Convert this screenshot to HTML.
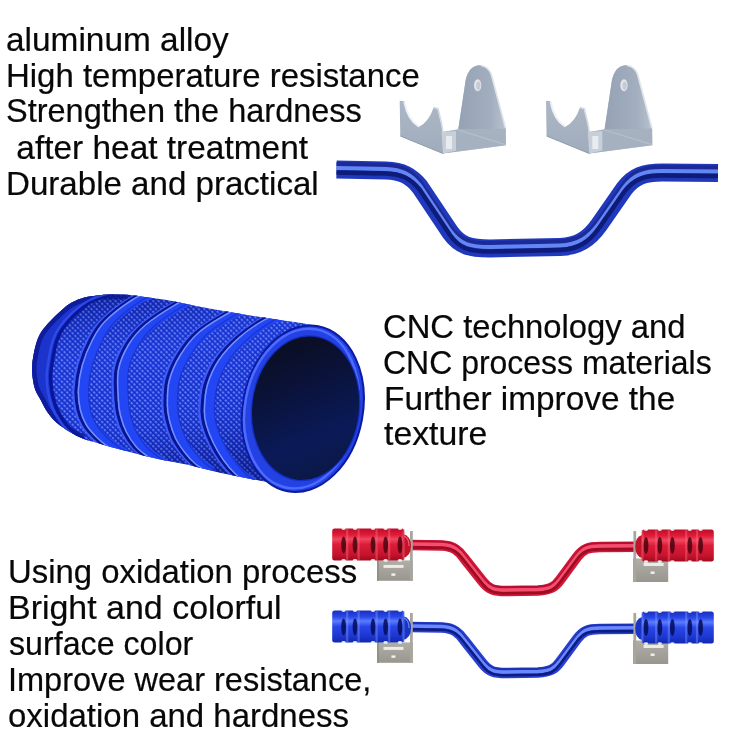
<!DOCTYPE html>
<html><head><meta charset="utf-8"><style>
html,body{margin:0;padding:0;background:#fff;}
body{width:750px;height:750px;position:relative;overflow:hidden;}
.t{position:absolute;font-family:"Liberation Sans",sans-serif;font-size:32.5px;line-height:32.5px;white-space:pre;color:#080808;-webkit-text-stroke:0.2px #080808;transform-origin:0 0;}
svg{position:absolute;left:0;top:0;}
</style></head><body>
<svg width="750" height="750" viewBox="0 0 750 750">
<defs>
  <linearGradient id="brkTab" x1="0" y1="0" x2="1" y2="0">
    <stop offset="0" stop-color="#95a2b4"/><stop offset="0.7" stop-color="#a3afbf"/><stop offset="1" stop-color="#b8c2cf"/>
  </linearGradient>
  <linearGradient id="brkU" x1="0" y1="0" x2="0" y2="1">
    <stop offset="0" stop-color="#b5bfcc"/><stop offset="1" stop-color="#a0acbc"/>
  </linearGradient>
  <pattern id="knurl" width="3.8" height="3.8" patternUnits="userSpaceOnUse" patternTransform="rotate(45)">
    <rect width="3.8" height="3.8" fill="#1834d8"/>
    <rect x="0.8" y="1.1" width="2.4" height="1.6" fill="#6a8cff"/>
    <path d="M0,0 H3.8 M0,0 V3.8" stroke="#0c1aa8" stroke-width="0.8"/>
  </pattern>
  <linearGradient id="gripShade" x1="0" y1="0" x2="0.25" y2="1">
    <stop offset="0" stop-color="#000040" stop-opacity="0.45"/><stop offset="0.12" stop-color="#000040" stop-opacity="0.2"/><stop offset="0.35" stop-color="#5070ff" stop-opacity="0.12"/><stop offset="0.65" stop-color="#5070ff" stop-opacity="0.08"/><stop offset="0.9" stop-color="#000040" stop-opacity="0.2"/><stop offset="1" stop-color="#000040" stop-opacity="0.35"/>
  </linearGradient>
  <linearGradient id="face" x1="0.2" y1="0" x2="0.6" y2="1">
    <stop offset="0" stop-color="#0a0e1e"/><stop offset="0.35" stop-color="#0a1238"/><stop offset="0.75" stop-color="#0a1a58"/><stop offset="1" stop-color="#0b1846"/>
  </linearGradient>
  <linearGradient id="redGrip" x1="0" y1="0" x2="0" y2="1">
    <stop offset="0" stop-color="#c00c28"/><stop offset="0.2" stop-color="#e01c38"/><stop offset="0.33" stop-color="#f04860"/><stop offset="0.5" stop-color="#dc1c38"/><stop offset="0.8" stop-color="#c8142e"/><stop offset="1" stop-color="#a00a20"/>
  </linearGradient>
  <linearGradient id="blueGrip" x1="0" y1="0" x2="0" y2="1">
    <stop offset="0" stop-color="#1830c0"/><stop offset="0.2" stop-color="#2a48e8"/><stop offset="0.33" stop-color="#5a7cff"/><stop offset="0.5" stop-color="#2a46e8"/><stop offset="0.8" stop-color="#1c36d0"/><stop offset="1" stop-color="#1028b0"/>
  </linearGradient>
  <linearGradient id="smallBrk" x1="0" y1="0" x2="0" y2="1">
    <stop offset="0" stop-color="#b0aea8"/><stop offset="1" stop-color="#98968e"/>
  </linearGradient>


</defs>
<filter id="soft" x="-5%" y="-20%" width="110%" height="140%"><feGaussianBlur stdDeviation="0.7"/></filter><filter id="soft2" x="-5%" y="-20%" width="110%" height="140%"><feGaussianBlur stdDeviation="0.45"/></filter>
<g fill="none" stroke-linecap="butt">
  <path d="M336.5,169.5 L386,170.5 C402,171 411,176 420,187 L450,232 C460,246 470,248.5 490,248.5 L560,247 C578,246.5 589,239 599,225 L624,189 C634,176 644,172.6 662,172.6 L718,173" stroke="#2038bc" stroke-width="18"/>
  <g filter="url(#soft)">
  <path transform="translate(0,-5.5)" d="M336.5,169.5 L386,170.5 C402,171 411,176 420,187 L450,232 C460,246 470,248.5 490,248.5 L560,247 C578,246.5 589,239 599,225 L624,189 C634,176 644,172.6 662,172.6 L718,173" stroke="#1c2c98" stroke-width="4"/>
  <path transform="translate(0,-1.5)" d="M336.5,169.5 L386,170.5 C402,171 411,176 420,187 L450,232 C460,246 470,248.5 490,248.5 L560,247 C578,246.5 589,239 599,225 L624,189 C634,176 644,172.6 662,172.6 L718,173" stroke="#6486f2" stroke-width="4"/>
  <path transform="translate(0,3)" d="M336.5,169.5 L386,170.5 C402,171 411,176 420,187 L450,232 C460,246 470,248.5 490,248.5 L560,247 C578,246.5 589,239 599,225 L624,189 C634,176 644,172.6 662,172.6 L718,173" stroke="#0c1a78" stroke-width="4.5"/>
  </g>
</g>
<g>
    <path d="M399.7,100.7 L404.3,101.3 Q408,120 419,126.7 Q429,122 433.7,107.3 L437.7,108.7 L441,122.7 L443,132 L458.3,129.3 L465.7,80 Q469,66 479,65.3 Q488,66 491,74.7 L505.7,128.7 L506,145.3 L443,153.5 L400.3,136 Z" fill="url(#brkU)"/>
    <path d="M458.3,129.3 L465.7,80 Q469,66 479,65.3 Q488,66 491,74.7 L505.7,128.7 Z" fill="url(#brkTab)"/>
    <path d="M481,65.5 Q489,67 491.5,75 L505.5,128" fill="none" stroke="#dfe4ea" stroke-width="1.6"/>
    <path d="M404.3,102 Q408,120 419,126.7" fill="none" stroke="#eef1f4" stroke-width="2"/>
    <path d="M433.7,107.5 L438,108.7 L441.5,123 L443,132" fill="none" stroke="#d6dce4" stroke-width="1.5"/>
    <ellipse cx="477.7" cy="85.3" rx="3.6" ry="6" fill="#e4e8ee"/>
    <ellipse cx="478.3" cy="85.8" rx="2.2" ry="4.2" fill="#c4ccd6"/>
    <path d="M458.3,130 L505.7,144.7" stroke="#c9d1db" stroke-width="1.3"/>
    <path d="M443,132 L458.3,129.5 L506,128.7 L506,145.3 L443,153.5 Z" fill="#a8b3c2" opacity="0.6"/>
    <path d="M441.5,132 L456,131 L456,150.5 L443,153.5 Z" fill="#c7cfd9"/>
    <rect x="446" y="136" width="6" height="13" fill="#e8ecf0"/>
    <path d="M400.3,136 L443,153.5" stroke="#8e9aab" stroke-width="1"/>
  </g>
<g transform="translate(146.3,0)">
    <path d="M399.7,100.7 L404.3,101.3 Q408,120 419,126.7 Q429,122 433.7,107.3 L437.7,108.7 L441,122.7 L443,132 L458.3,129.3 L465.7,80 Q469,66 479,65.3 Q488,66 491,74.7 L505.7,128.7 L506,145.3 L443,153.5 L400.3,136 Z" fill="url(#brkU)"/>
    <path d="M458.3,129.3 L465.7,80 Q469,66 479,65.3 Q488,66 491,74.7 L505.7,128.7 Z" fill="url(#brkTab)"/>
    <path d="M481,65.5 Q489,67 491.5,75 L505.5,128" fill="none" stroke="#dfe4ea" stroke-width="1.6"/>
    <path d="M404.3,102 Q408,120 419,126.7" fill="none" stroke="#eef1f4" stroke-width="2"/>
    <path d="M433.7,107.5 L438,108.7 L441.5,123 L443,132" fill="none" stroke="#d6dce4" stroke-width="1.5"/>
    <ellipse cx="477.7" cy="85.3" rx="3.6" ry="6" fill="#e4e8ee"/>
    <ellipse cx="478.3" cy="85.8" rx="2.2" ry="4.2" fill="#c4ccd6"/>
    <path d="M458.3,130 L505.7,144.7" stroke="#c9d1db" stroke-width="1.3"/>
    <path d="M443,132 L458.3,129.5 L506,128.7 L506,145.3 L443,153.5 Z" fill="#a8b3c2" opacity="0.6"/>
    <path d="M441.5,132 L456,131 L456,150.5 L443,153.5 Z" fill="#c7cfd9"/>
    <rect x="446" y="136" width="6" height="13" fill="#e8ecf0"/>
    <path d="M400.3,136 L443,153.5" stroke="#8e9aab" stroke-width="1"/>
  </g>
<clipPath id="gclip"><path d="M32.3,362.7 C32.8,360.2 33.8,352.6 35.0,348.0 C36.2,343.4 37.4,339.0 39.5,335.0 C41.6,331.0 44.4,327.6 47.5,324.0 C50.6,320.4 54.4,316.7 58.0,313.4 C61.6,310.1 65.4,306.5 69.3,304.0 C73.2,301.5 76.7,299.8 81.4,298.4 C86.1,297.0 92.5,296.2 97.3,295.6 C102.1,295.0 104.9,294.6 110.0,294.5 C115.1,294.4 121.9,294.2 128.0,294.7 C134.1,295.2 139.1,296.2 146.7,297.3 C154.2,298.4 164.4,299.7 173.3,301.3 C182.2,302.9 191.1,305.0 200.0,306.7 C208.9,308.4 217.8,309.9 226.7,311.5 C235.6,313.1 244.4,314.6 253.3,316.0 C262.2,317.4 271.1,318.7 280.0,320.0 C288.9,321.3 300.4,322.9 306.7,324.0 C313.0,325.1 316.1,326.1 318.0,326.5  L300.0,489.5 C297.3,488.9 292.0,487.3 284.0,485.6 C276.0,483.9 262.7,481.3 252.0,479.2 C241.3,477.1 230.7,475.2 220.0,472.8 C209.3,470.4 198.7,467.2 188.0,464.8 C177.3,462.4 166.7,460.8 156.0,458.4 C145.3,456.0 131.7,452.3 124.0,450.4 C116.3,448.4 114.5,448.0 110.0,446.7 C105.5,445.4 101.2,444.0 96.7,442.7 C92.2,441.4 87.8,440.5 83.3,438.7 C78.8,436.9 74.4,434.7 70.0,432.0 C65.6,429.3 60.5,426.0 56.7,422.7 C52.9,419.4 50.0,415.8 47.3,412.0 C44.6,408.2 42.8,403.8 40.7,400.0 C38.7,396.2 36.4,393.2 35.0,389.0 C33.6,384.8 32.8,379.4 32.3,375.0 C31.8,370.6 32.3,364.8 32.3,362.7  Z"/></clipPath>
<g>
<path d="M32.3,362.7 C32.8,360.2 33.8,352.6 35.0,348.0 C36.2,343.4 37.4,339.0 39.5,335.0 C41.6,331.0 44.4,327.6 47.5,324.0 C50.6,320.4 54.4,316.7 58.0,313.4 C61.6,310.1 65.4,306.5 69.3,304.0 C73.2,301.5 76.7,299.8 81.4,298.4 C86.1,297.0 92.5,296.2 97.3,295.6 C102.1,295.0 104.9,294.6 110.0,294.5 C115.1,294.4 121.9,294.2 128.0,294.7 C134.1,295.2 139.1,296.2 146.7,297.3 C154.2,298.4 164.4,299.7 173.3,301.3 C182.2,302.9 191.1,305.0 200.0,306.7 C208.9,308.4 217.8,309.9 226.7,311.5 C235.6,313.1 244.4,314.6 253.3,316.0 C262.2,317.4 271.1,318.7 280.0,320.0 C288.9,321.3 300.4,322.9 306.7,324.0 C313.0,325.1 316.1,326.1 318.0,326.5  L300.0,489.5 C297.3,488.9 292.0,487.3 284.0,485.6 C276.0,483.9 262.7,481.3 252.0,479.2 C241.3,477.1 230.7,475.2 220.0,472.8 C209.3,470.4 198.7,467.2 188.0,464.8 C177.3,462.4 166.7,460.8 156.0,458.4 C145.3,456.0 131.7,452.3 124.0,450.4 C116.3,448.4 114.5,448.0 110.0,446.7 C105.5,445.4 101.2,444.0 96.7,442.7 C92.2,441.4 87.8,440.5 83.3,438.7 C78.8,436.9 74.4,434.7 70.0,432.0 C65.6,429.3 60.5,426.0 56.7,422.7 C52.9,419.4 50.0,415.8 47.3,412.0 C44.6,408.2 42.8,403.8 40.7,400.0 C38.7,396.2 36.4,393.2 35.0,389.0 C33.6,384.8 32.8,379.4 32.3,375.0 C31.8,370.6 32.3,364.8 32.3,362.7  Z" fill="url(#knurl)"/>
<path d="M32.3,362.7 C32.8,360.2 33.8,352.6 35.0,348.0 C36.2,343.4 37.4,339.0 39.5,335.0 C41.6,331.0 44.4,327.6 47.5,324.0 C50.6,320.4 54.4,316.7 58.0,313.4 C61.6,310.1 65.4,306.5 69.3,304.0 C73.2,301.5 76.7,299.8 81.4,298.4 C86.1,297.0 92.5,296.2 97.3,295.6 C102.1,295.0 104.9,294.6 110.0,294.5 C115.1,294.4 121.9,294.2 128.0,294.7 C134.1,295.2 139.1,296.2 146.7,297.3 C154.2,298.4 164.4,299.7 173.3,301.3 C182.2,302.9 191.1,305.0 200.0,306.7 C208.9,308.4 217.8,309.9 226.7,311.5 C235.6,313.1 244.4,314.6 253.3,316.0 C262.2,317.4 271.1,318.7 280.0,320.0 C288.9,321.3 300.4,322.9 306.7,324.0 C313.0,325.1 316.1,326.1 318.0,326.5  L300.0,489.5 C297.3,488.9 292.0,487.3 284.0,485.6 C276.0,483.9 262.7,481.3 252.0,479.2 C241.3,477.1 230.7,475.2 220.0,472.8 C209.3,470.4 198.7,467.2 188.0,464.8 C177.3,462.4 166.7,460.8 156.0,458.4 C145.3,456.0 131.7,452.3 124.0,450.4 C116.3,448.4 114.5,448.0 110.0,446.7 C105.5,445.4 101.2,444.0 96.7,442.7 C92.2,441.4 87.8,440.5 83.3,438.7 C78.8,436.9 74.4,434.7 70.0,432.0 C65.6,429.3 60.5,426.0 56.7,422.7 C52.9,419.4 50.0,415.8 47.3,412.0 C44.6,408.2 42.8,403.8 40.7,400.0 C38.7,396.2 36.4,393.2 35.0,389.0 C33.6,384.8 32.8,379.4 32.3,375.0 C31.8,370.6 32.3,364.8 32.3,362.7  Z" fill="url(#gripShade)"/>
<g clip-path="url(#gclip)" fill="none">
<path d="M132.0,291.0 C128.3,291.5 116.7,292.3 110.0,294.0 C103.3,295.7 97.8,297.7 92.0,301.0 C86.2,304.3 79.8,309.5 75.0,314.0 C70.2,318.5 66.0,323.7 63.0,328.0 C60.0,332.3 58.6,335.5 57.0,340.0 C55.4,344.5 54.5,349.2 53.5,355.0 C52.5,360.8 51.0,368.5 50.7,374.7 C50.5,380.9 51.1,386.6 52.0,392.0 C52.9,397.4 54.2,402.3 56.0,407.0 C57.8,411.7 60.3,416.0 63.0,420.0 C65.7,424.0 68.6,427.8 72.0,431.0 C75.4,434.2 79.3,437.0 83.3,439.5 C87.3,442.0 91.5,443.9 96.0,446.0 C100.5,448.1 107.7,451.0 110.0,452.0  L20,470 L20,280 Z" fill="#1c34cc"/>
<path d="M83.3,438.7 C81.1,437.6 74.4,434.7 70.0,432.0 C65.6,429.3 60.5,426.0 56.7,422.7 C52.9,419.4 50.0,415.8 47.3,412.0 C44.6,408.2 42.8,403.8 40.7,400.0 C38.7,396.2 36.4,393.2 35.0,389.0 C33.6,384.8 32.8,379.4 32.3,375.0 C31.8,370.6 31.8,367.2 32.3,362.7 C32.8,358.2 33.8,352.6 35.0,348.0 C36.2,343.4 37.4,339.0 39.5,335.0 C41.6,331.0 44.4,327.6 47.5,324.0 C50.6,320.4 54.4,316.7 58.0,313.4 C61.6,310.1 65.4,306.5 69.3,304.0 C73.2,301.5 76.7,299.8 81.4,298.4 C86.1,297.0 92.5,296.2 97.3,295.6 C102.1,295.0 104.9,294.6 110.0,294.5 C115.1,294.4 125.0,294.7 128.0,294.7 " stroke="#0c1890" stroke-width="9" opacity="0.8"/>
<path d="M132.0,291.0 C128.3,291.5 116.7,292.3 110.0,294.0 C103.3,295.7 97.8,297.7 92.0,301.0 C86.2,304.3 79.8,309.5 75.0,314.0 C70.2,318.5 66.0,323.7 63.0,328.0 C60.0,332.3 58.6,335.5 57.0,340.0 C55.4,344.5 54.5,349.2 53.5,355.0 C52.5,360.8 51.0,368.5 50.7,374.7 C50.5,380.9 51.1,386.6 52.0,392.0 C52.9,397.4 54.2,402.3 56.0,407.0 C57.8,411.7 60.3,416.0 63.0,420.0 C65.7,424.0 68.6,427.8 72.0,431.0 C75.4,434.2 79.3,437.0 83.3,439.5 C87.3,442.0 91.5,443.9 96.0,446.0 C100.5,448.1 107.7,451.0 110.0,452.0 " stroke="#0a1698" stroke-width="3.5"/>
<path d="M132.0,291.0 C128.3,291.5 116.7,292.3 110.0,294.0 C103.3,295.7 97.8,297.7 92.0,301.0 C86.2,304.3 79.8,309.5 75.0,314.0 C70.2,318.5 66.0,323.7 63.0,328.0 C60.0,332.3 58.6,335.5 57.0,340.0 C55.4,344.5 54.5,349.2 53.5,355.0 C52.5,360.8 51.0,368.5 50.7,374.7 C50.5,380.9 51.1,386.6 52.0,392.0 C52.9,397.4 54.2,402.3 56.0,407.0 C57.8,411.7 60.3,416.0 63.0,420.0 C65.7,424.0 68.6,427.8 72.0,431.0 C75.4,434.2 79.3,437.0 83.3,439.5 C87.3,442.0 91.5,443.9 96.0,446.0 C100.5,448.1 107.7,451.0 110.0,452.0 " transform="translate(-4,0)" stroke="#3050f0" stroke-width="2.5" opacity="0.8"/>
<path d="M150.0,291.0 C146.6,292.5 137.5,294.9 129.6,300.0 C121.7,305.1 109.3,314.6 102.7,321.3 C96.1,328.0 93.8,332.7 90.0,340.0 C86.2,347.3 82.3,356.7 80.0,365.0 C77.7,373.3 76.3,382.5 76.0,390.0 C75.7,397.5 76.7,404.2 78.0,410.0 C79.3,415.8 81.2,420.3 84.0,425.0 C86.8,429.7 91.3,434.3 95.0,438.0 C98.7,441.7 102.2,444.3 106.0,447.0 C109.8,449.7 116.0,452.8 118.0,454.0 " transform="translate(7,0)" stroke="#2246f4" stroke-width="11"/>
<path d="M150.0,291.0 C146.6,292.5 137.5,294.9 129.6,300.0 C121.7,305.1 109.3,314.6 102.7,321.3 C96.1,328.0 93.8,332.7 90.0,340.0 C86.2,347.3 82.3,356.7 80.0,365.0 C77.7,373.3 76.3,382.5 76.0,390.0 C75.7,397.5 76.7,404.2 78.0,410.0 C79.3,415.8 81.2,420.3 84.0,425.0 C86.8,429.7 91.3,434.3 95.0,438.0 C98.7,441.7 102.2,444.3 106.0,447.0 C109.8,449.7 116.0,452.8 118.0,454.0 " transform="translate(-2.5,0)" stroke="#3c5cfa" stroke-width="2.4"/>
<path d="M150.0,291.0 C146.6,292.5 137.5,294.9 129.6,300.0 C121.7,305.1 109.3,314.6 102.7,321.3 C96.1,328.0 93.8,332.7 90.0,340.0 C86.2,347.3 82.3,356.7 80.0,365.0 C77.7,373.3 76.3,382.5 76.0,390.0 C75.7,397.5 76.7,404.2 78.0,410.0 C79.3,415.8 81.2,420.3 84.0,425.0 C86.8,429.7 91.3,434.3 95.0,438.0 C98.7,441.7 102.2,444.3 106.0,447.0 C109.8,449.7 116.0,452.8 118.0,454.0 " stroke="#0a1490" stroke-width="3"/>
<path d="M150.0,291.0 C146.6,292.5 137.5,294.9 129.6,300.0 C121.7,305.1 109.3,314.6 102.7,321.3 C96.1,328.0 93.8,332.7 90.0,340.0 C86.2,347.3 82.3,356.7 80.0,365.0 C77.7,373.3 76.3,382.5 76.0,390.0 C75.7,397.5 76.7,404.2 78.0,410.0 C79.3,415.8 81.2,420.3 84.0,425.0 C86.8,429.7 91.3,434.3 95.0,438.0 C98.7,441.7 102.2,444.3 106.0,447.0 C109.8,449.7 116.0,452.8 118.0,454.0 " transform="translate(2.4,0)" stroke="#7090ff" stroke-width="1.5"/>
<path d="M150.0,291.0 C146.6,292.5 137.5,294.9 129.6,300.0 C121.7,305.1 109.3,314.6 102.7,321.3 C96.1,328.0 93.8,332.7 90.0,340.0 C86.2,347.3 82.3,356.7 80.0,365.0 C77.7,373.3 76.3,382.5 76.0,390.0 C75.7,397.5 76.7,404.2 78.0,410.0 C79.3,415.8 81.2,420.3 84.0,425.0 C86.8,429.7 91.3,434.3 95.0,438.0 C98.7,441.7 102.2,444.3 106.0,447.0 C109.8,449.7 116.0,452.8 118.0,454.0 " transform="translate(12.5,0)" stroke="#1428b8" stroke-width="1.2" opacity="0.6"/>
<path d="M192.0,296.0 C188.8,297.5 181.0,300.0 172.8,304.8 C164.6,309.6 150.8,318.3 143.0,325.0 C135.2,331.7 130.5,337.5 126.0,345.0 C121.5,352.5 117.7,360.8 116.0,370.0 C114.3,379.2 115.7,392.5 116.0,400.0 C116.3,407.5 116.7,409.7 118.0,415.0 C119.3,420.3 121.3,426.7 124.0,432.0 C126.7,437.3 130.3,442.8 134.0,447.0 C137.7,451.2 142.0,454.0 146.0,457.0 C150.0,460.0 156.0,463.7 158.0,465.0 " transform="translate(7,0)" stroke="#2246f4" stroke-width="11"/>
<path d="M192.0,296.0 C188.8,297.5 181.0,300.0 172.8,304.8 C164.6,309.6 150.8,318.3 143.0,325.0 C135.2,331.7 130.5,337.5 126.0,345.0 C121.5,352.5 117.7,360.8 116.0,370.0 C114.3,379.2 115.7,392.5 116.0,400.0 C116.3,407.5 116.7,409.7 118.0,415.0 C119.3,420.3 121.3,426.7 124.0,432.0 C126.7,437.3 130.3,442.8 134.0,447.0 C137.7,451.2 142.0,454.0 146.0,457.0 C150.0,460.0 156.0,463.7 158.0,465.0 " transform="translate(-2.5,0)" stroke="#3c5cfa" stroke-width="2.4"/>
<path d="M192.0,296.0 C188.8,297.5 181.0,300.0 172.8,304.8 C164.6,309.6 150.8,318.3 143.0,325.0 C135.2,331.7 130.5,337.5 126.0,345.0 C121.5,352.5 117.7,360.8 116.0,370.0 C114.3,379.2 115.7,392.5 116.0,400.0 C116.3,407.5 116.7,409.7 118.0,415.0 C119.3,420.3 121.3,426.7 124.0,432.0 C126.7,437.3 130.3,442.8 134.0,447.0 C137.7,451.2 142.0,454.0 146.0,457.0 C150.0,460.0 156.0,463.7 158.0,465.0 " stroke="#0a1490" stroke-width="3"/>
<path d="M192.0,296.0 C188.8,297.5 181.0,300.0 172.8,304.8 C164.6,309.6 150.8,318.3 143.0,325.0 C135.2,331.7 130.5,337.5 126.0,345.0 C121.5,352.5 117.7,360.8 116.0,370.0 C114.3,379.2 115.7,392.5 116.0,400.0 C116.3,407.5 116.7,409.7 118.0,415.0 C119.3,420.3 121.3,426.7 124.0,432.0 C126.7,437.3 130.3,442.8 134.0,447.0 C137.7,451.2 142.0,454.0 146.0,457.0 C150.0,460.0 156.0,463.7 158.0,465.0 " transform="translate(2.4,0)" stroke="#7090ff" stroke-width="1.5"/>
<path d="M192.0,296.0 C188.8,297.5 181.0,300.0 172.8,304.8 C164.6,309.6 150.8,318.3 143.0,325.0 C135.2,331.7 130.5,337.5 126.0,345.0 C121.5,352.5 117.7,360.8 116.0,370.0 C114.3,379.2 115.7,392.5 116.0,400.0 C116.3,407.5 116.7,409.7 118.0,415.0 C119.3,420.3 121.3,426.7 124.0,432.0 C126.7,437.3 130.3,442.8 134.0,447.0 C137.7,451.2 142.0,454.0 146.0,457.0 C150.0,460.0 156.0,463.7 158.0,465.0 " transform="translate(12.5,0)" stroke="#1428b8" stroke-width="1.2" opacity="0.6"/>
<path d="M248.0,304.0 C244.7,305.3 236.6,307.2 228.0,312.0 C219.4,316.8 204.6,325.3 196.3,332.5 C188.0,339.7 182.9,347.1 178.0,355.0 C173.1,362.9 169.2,371.7 167.0,380.0 C164.8,388.3 165.0,398.3 165.0,405.0 C165.0,411.7 165.7,414.5 167.0,420.0 C168.3,425.5 170.5,432.7 173.0,438.0 C175.5,443.3 178.8,447.8 182.0,452.0 C185.2,456.2 188.2,459.7 192.0,463.0 C195.8,466.3 202.8,470.5 205.0,472.0 " transform="translate(7,0)" stroke="#2246f4" stroke-width="11"/>
<path d="M248.0,304.0 C244.7,305.3 236.6,307.2 228.0,312.0 C219.4,316.8 204.6,325.3 196.3,332.5 C188.0,339.7 182.9,347.1 178.0,355.0 C173.1,362.9 169.2,371.7 167.0,380.0 C164.8,388.3 165.0,398.3 165.0,405.0 C165.0,411.7 165.7,414.5 167.0,420.0 C168.3,425.5 170.5,432.7 173.0,438.0 C175.5,443.3 178.8,447.8 182.0,452.0 C185.2,456.2 188.2,459.7 192.0,463.0 C195.8,466.3 202.8,470.5 205.0,472.0 " transform="translate(-2.5,0)" stroke="#3c5cfa" stroke-width="2.4"/>
<path d="M248.0,304.0 C244.7,305.3 236.6,307.2 228.0,312.0 C219.4,316.8 204.6,325.3 196.3,332.5 C188.0,339.7 182.9,347.1 178.0,355.0 C173.1,362.9 169.2,371.7 167.0,380.0 C164.8,388.3 165.0,398.3 165.0,405.0 C165.0,411.7 165.7,414.5 167.0,420.0 C168.3,425.5 170.5,432.7 173.0,438.0 C175.5,443.3 178.8,447.8 182.0,452.0 C185.2,456.2 188.2,459.7 192.0,463.0 C195.8,466.3 202.8,470.5 205.0,472.0 " stroke="#0a1490" stroke-width="3"/>
<path d="M248.0,304.0 C244.7,305.3 236.6,307.2 228.0,312.0 C219.4,316.8 204.6,325.3 196.3,332.5 C188.0,339.7 182.9,347.1 178.0,355.0 C173.1,362.9 169.2,371.7 167.0,380.0 C164.8,388.3 165.0,398.3 165.0,405.0 C165.0,411.7 165.7,414.5 167.0,420.0 C168.3,425.5 170.5,432.7 173.0,438.0 C175.5,443.3 178.8,447.8 182.0,452.0 C185.2,456.2 188.2,459.7 192.0,463.0 C195.8,466.3 202.8,470.5 205.0,472.0 " transform="translate(2.4,0)" stroke="#7090ff" stroke-width="1.5"/>
<path d="M248.0,304.0 C244.7,305.3 236.6,307.2 228.0,312.0 C219.4,316.8 204.6,325.3 196.3,332.5 C188.0,339.7 182.9,347.1 178.0,355.0 C173.1,362.9 169.2,371.7 167.0,380.0 C164.8,388.3 165.0,398.3 165.0,405.0 C165.0,411.7 165.7,414.5 167.0,420.0 C168.3,425.5 170.5,432.7 173.0,438.0 C175.5,443.3 178.8,447.8 182.0,452.0 C185.2,456.2 188.2,459.7 192.0,463.0 C195.8,466.3 202.8,470.5 205.0,472.0 " transform="translate(12.5,0)" stroke="#1428b8" stroke-width="1.2" opacity="0.6"/>
<path d="M284.0,312.0 C280.4,313.3 270.0,315.6 262.1,319.9 C254.2,324.2 244.4,330.9 236.8,337.6 C229.2,344.3 221.8,352.1 216.5,360.0 C211.2,367.9 207.4,376.7 205.0,385.0 C202.6,393.3 202.2,403.3 202.0,410.0 C201.8,416.7 202.5,419.5 204.0,425.0 C205.5,430.5 208.2,437.2 211.0,443.0 C213.8,448.8 217.3,454.8 221.0,460.0 C224.7,465.2 229.0,470.3 233.0,474.0 C237.0,477.7 243.0,480.7 245.0,482.0 " transform="translate(7,0)" stroke="#2246f4" stroke-width="11"/>
<path d="M284.0,312.0 C280.4,313.3 270.0,315.6 262.1,319.9 C254.2,324.2 244.4,330.9 236.8,337.6 C229.2,344.3 221.8,352.1 216.5,360.0 C211.2,367.9 207.4,376.7 205.0,385.0 C202.6,393.3 202.2,403.3 202.0,410.0 C201.8,416.7 202.5,419.5 204.0,425.0 C205.5,430.5 208.2,437.2 211.0,443.0 C213.8,448.8 217.3,454.8 221.0,460.0 C224.7,465.2 229.0,470.3 233.0,474.0 C237.0,477.7 243.0,480.7 245.0,482.0 " transform="translate(-2.5,0)" stroke="#3c5cfa" stroke-width="2.4"/>
<path d="M284.0,312.0 C280.4,313.3 270.0,315.6 262.1,319.9 C254.2,324.2 244.4,330.9 236.8,337.6 C229.2,344.3 221.8,352.1 216.5,360.0 C211.2,367.9 207.4,376.7 205.0,385.0 C202.6,393.3 202.2,403.3 202.0,410.0 C201.8,416.7 202.5,419.5 204.0,425.0 C205.5,430.5 208.2,437.2 211.0,443.0 C213.8,448.8 217.3,454.8 221.0,460.0 C224.7,465.2 229.0,470.3 233.0,474.0 C237.0,477.7 243.0,480.7 245.0,482.0 " stroke="#0a1490" stroke-width="3"/>
<path d="M284.0,312.0 C280.4,313.3 270.0,315.6 262.1,319.9 C254.2,324.2 244.4,330.9 236.8,337.6 C229.2,344.3 221.8,352.1 216.5,360.0 C211.2,367.9 207.4,376.7 205.0,385.0 C202.6,393.3 202.2,403.3 202.0,410.0 C201.8,416.7 202.5,419.5 204.0,425.0 C205.5,430.5 208.2,437.2 211.0,443.0 C213.8,448.8 217.3,454.8 221.0,460.0 C224.7,465.2 229.0,470.3 233.0,474.0 C237.0,477.7 243.0,480.7 245.0,482.0 " transform="translate(2.4,0)" stroke="#7090ff" stroke-width="1.5"/>
<path d="M284.0,312.0 C280.4,313.3 270.0,315.6 262.1,319.9 C254.2,324.2 244.4,330.9 236.8,337.6 C229.2,344.3 221.8,352.1 216.5,360.0 C211.2,367.9 207.4,376.7 205.0,385.0 C202.6,393.3 202.2,403.3 202.0,410.0 C201.8,416.7 202.5,419.5 204.0,425.0 C205.5,430.5 208.2,437.2 211.0,443.0 C213.8,448.8 217.3,454.8 221.0,460.0 C224.7,465.2 229.0,470.3 233.0,474.0 C237.0,477.7 243.0,480.7 245.0,482.0 " transform="translate(12.5,0)" stroke="#1428b8" stroke-width="1.2" opacity="0.6"/>
</g>
<ellipse cx="302.9" cy="408.8" rx="60" ry="83.9" transform="rotate(10.5 302.9 408.8)" fill="#2442e4"/>
<ellipse cx="302.9" cy="408.8" rx="60" ry="83.9" transform="rotate(10.5 302.9 408.8)" fill="none" stroke="#0c1aa0" stroke-width="2"/>
<ellipse cx="301.5" cy="408.8" rx="56.5" ry="80.5" transform="rotate(10.5 302.9 408.8)" fill="none" stroke="#4c6cff" stroke-width="2.5"/>
<ellipse cx="305.6" cy="408.2" rx="53.3" ry="72" transform="rotate(6.8 305.6 408.2)" fill="none" stroke="#1430c8" stroke-width="2.4"/>
<ellipse cx="305.6" cy="408.2" rx="53.3" ry="72" transform="rotate(6.8 305.6 408.2)" fill="url(#face)"/>
</g>
<g transform="translate(0,0)">
<g fill="none"><path d="M411,545 L442,545.5 C454,546 459,551 464,558 L483,582 C489,589.5 494,591 506,591 L538,590.5 C550,590 555,587 560,580 L577,557 C583,549 588,547 600,547 L637,546.8" stroke="#d01838" stroke-width="10.4"/><g filter="url(#soft2)"><path transform="translate(0,-3.6)" d="M411,545 L442,545.5 C454,546 459,551 464,558 L483,582 C489,589.5 494,591 506,591 L538,590.5 C550,590 555,587 560,580 L577,557 C583,549 588,547 600,547 L637,546.8" stroke="#b81030" stroke-width="2.4"/><path transform="translate(0,-1)" d="M411,545 L442,545.5 C454,546 459,551 464,558 L483,582 C489,589.5 494,591 506,591 L538,590.5 C550,590 555,587 560,580 L577,557 C583,549 588,547 600,547 L637,546.8" stroke="#f45070" stroke-width="3.4"/><path transform="translate(0,2.3)" d="M411,545 L442,545.5 C454,546 459,551 464,558 L483,582 C489,589.5 494,591 506,591 L538,590.5 C550,590 555,587 560,580 L577,557 C583,549 588,547 600,547 L637,546.8" stroke="#9c0820" stroke-width="2.6"/></g></g>
<rect x="377.2" y="560.4" width="35.60000000000002" height="20.399999999999977" fill="url(#smallBrk)"/><rect x="377.2" y="560.4" width="1.5" height="20.399999999999977" fill="#8a8880"/><rect x="383.5" y="564.9" width="20" height="3" fill="#ecebe6"/><rect x="391.4" y="573.4" width="4" height="2.4" fill="#f2f1ec"/><rect x="410" y="531" width="2.8" height="49.799999999999955" fill="#a8a69f"/><rect x="633.4" y="558.5" width="34.80000000000007" height="23.5" fill="url(#smallBrk)"/><rect x="633.4" y="558.5" width="1.5" height="23.5" fill="#8a8880"/><rect x="643.6" y="563.0" width="20" height="3" fill="#ecebe6"/><rect x="650.6" y="571.5" width="4" height="2.4" fill="#f2f1ec"/><rect x="633.4" y="531" width="2.8" height="51" fill="#a8a69f"/><rect x="332.2" y="528.6" width="72" height="31.8" rx="2.5" fill="url(#redGrip)"/><path d="M403,534 Q411,536 411,546 Q411,556 403,558 Z" fill="#c4142c"/><path d="M404,536 Q409,538 409,546" fill="none" stroke="#ff7088" stroke-width="1.2" opacity="0.8"/><ellipse cx="343.6" cy="545" rx="2.4" ry="8.5" fill="#4a0410" opacity="0.85"/><rect x="346.1" y="529" width="2.2" height="31" fill="#ff7088" opacity="0.4"/><ellipse cx="343.6" cy="528.6" rx="2.2" ry="1.4" fill="#ffffff" opacity="0.85"/><ellipse cx="343.6" cy="560.4" rx="2.2" ry="1.4" fill="#ffffff" opacity="0.85"/><ellipse cx="355" cy="545" rx="2.4" ry="8.5" fill="#4a0410" opacity="0.85"/><rect x="357.5" y="529" width="2.2" height="31" fill="#ff7088" opacity="0.4"/><ellipse cx="355" cy="528.6" rx="2.2" ry="1.4" fill="#ffffff" opacity="0.85"/><ellipse cx="355" cy="560.4" rx="2.2" ry="1.4" fill="#ffffff" opacity="0.85"/><ellipse cx="373" cy="545" rx="2.4" ry="8.5" fill="#4a0410" opacity="0.85"/><rect x="375.5" y="529" width="2.2" height="31" fill="#ff7088" opacity="0.4"/><ellipse cx="373" cy="528.6" rx="2.2" ry="1.4" fill="#ffffff" opacity="0.85"/><ellipse cx="373" cy="560.4" rx="2.2" ry="1.4" fill="#ffffff" opacity="0.85"/><ellipse cx="385.6" cy="545" rx="2.4" ry="8.5" fill="#4a0410" opacity="0.85"/><rect x="388.1" y="529" width="2.2" height="31" fill="#ff7088" opacity="0.4"/><ellipse cx="385.6" cy="528.6" rx="2.2" ry="1.4" fill="#ffffff" opacity="0.85"/><ellipse cx="385.6" cy="560.4" rx="2.2" ry="1.4" fill="#ffffff" opacity="0.85"/><ellipse cx="400" cy="545" rx="2.4" ry="8.5" fill="#4a0410" opacity="0.85"/><rect x="402.5" y="529" width="2.2" height="31" fill="#ff7088" opacity="0.4"/><ellipse cx="400" cy="528.6" rx="2.2" ry="1.4" fill="#ffffff" opacity="0.85"/><ellipse cx="400" cy="560.4" rx="2.2" ry="1.4" fill="#ffffff" opacity="0.85"/><rect x="641.8" y="529.6" width="72" height="32" rx="2.5" fill="url(#redGrip)"/><path d="M642,535 Q635.2,537 635.2,546.5 Q635.2,556 642,558 Z" fill="#c4142c"/><ellipse cx="646" cy="545.5" rx="2.4" ry="8.5" fill="#4a0410" opacity="0.85"/><rect x="641.3" y="530" width="2.2" height="31" fill="#ff7088" opacity="0.4"/><ellipse cx="646" cy="529.6" rx="2.2" ry="1.4" fill="#ffffff" opacity="0.85"/><ellipse cx="646" cy="561.6" rx="2.2" ry="1.4" fill="#ffffff" opacity="0.85"/><ellipse cx="659.8" cy="545.5" rx="2.4" ry="8.5" fill="#4a0410" opacity="0.85"/><rect x="655.0999999999999" y="530" width="2.2" height="31" fill="#ff7088" opacity="0.4"/><ellipse cx="659.8" cy="529.6" rx="2.2" ry="1.4" fill="#ffffff" opacity="0.85"/><ellipse cx="659.8" cy="561.6" rx="2.2" ry="1.4" fill="#ffffff" opacity="0.85"/><ellipse cx="672.4" cy="545.5" rx="2.4" ry="8.5" fill="#4a0410" opacity="0.85"/><rect x="667.6999999999999" y="530" width="2.2" height="31" fill="#ff7088" opacity="0.4"/><ellipse cx="672.4" cy="529.6" rx="2.2" ry="1.4" fill="#ffffff" opacity="0.85"/><ellipse cx="672.4" cy="561.6" rx="2.2" ry="1.4" fill="#ffffff" opacity="0.85"/><ellipse cx="689.8" cy="545.5" rx="2.4" ry="8.5" fill="#4a0410" opacity="0.85"/><rect x="685.0999999999999" y="530" width="2.2" height="31" fill="#ff7088" opacity="0.4"/><ellipse cx="689.8" cy="529.6" rx="2.2" ry="1.4" fill="#ffffff" opacity="0.85"/><ellipse cx="689.8" cy="561.6" rx="2.2" ry="1.4" fill="#ffffff" opacity="0.85"/><ellipse cx="700.6" cy="545.5" rx="2.4" ry="8.5" fill="#4a0410" opacity="0.85"/><rect x="695.9" y="530" width="2.2" height="31" fill="#ff7088" opacity="0.4"/><ellipse cx="700.6" cy="529.6" rx="2.2" ry="1.4" fill="#ffffff" opacity="0.85"/><ellipse cx="700.6" cy="561.6" rx="2.2" ry="1.4" fill="#ffffff" opacity="0.85"/></g>
<g transform="translate(0,82)">
<g fill="none"><path d="M411,545 L442,545.5 C454,546 459,551 464,558 L483,582 C489,589.5 494,591 506,591 L538,590.5 C550,590 555,587 560,580 L577,557 C583,549 588,547 600,547 L637,546.8" stroke="#2840d0" stroke-width="10.4"/><g filter="url(#soft2)"><path transform="translate(0,-3.6)" d="M411,545 L442,545.5 C454,546 459,551 464,558 L483,582 C489,589.5 494,591 506,591 L538,590.5 C550,590 555,587 560,580 L577,557 C583,549 588,547 600,547 L637,546.8" stroke="#1c30b0" stroke-width="2.4"/><path transform="translate(0,-1)" d="M411,545 L442,545.5 C454,546 459,551 464,558 L483,582 C489,589.5 494,591 506,591 L538,590.5 C550,590 555,587 560,580 L577,557 C583,549 588,547 600,547 L637,546.8" stroke="#6a88ff" stroke-width="3.4"/><path transform="translate(0,2.3)" d="M411,545 L442,545.5 C454,546 459,551 464,558 L483,582 C489,589.5 494,591 506,591 L538,590.5 C550,590 555,587 560,580 L577,557 C583,549 588,547 600,547 L637,546.8" stroke="#0c1a80" stroke-width="2.6"/></g></g>
<rect x="377.2" y="560.4" width="35.60000000000002" height="20.399999999999977" fill="url(#smallBrk)"/><rect x="377.2" y="560.4" width="1.5" height="20.399999999999977" fill="#8a8880"/><rect x="383.5" y="564.9" width="20" height="3" fill="#ecebe6"/><rect x="391.4" y="573.4" width="4" height="2.4" fill="#f2f1ec"/><rect x="410" y="531" width="2.8" height="49.799999999999955" fill="#a8a69f"/><rect x="633.4" y="558.5" width="34.80000000000007" height="23.5" fill="url(#smallBrk)"/><rect x="633.4" y="558.5" width="1.5" height="23.5" fill="#8a8880"/><rect x="643.6" y="563.0" width="20" height="3" fill="#ecebe6"/><rect x="650.6" y="571.5" width="4" height="2.4" fill="#f2f1ec"/><rect x="633.4" y="531" width="2.8" height="51" fill="#a8a69f"/><rect x="332.2" y="528.6" width="72" height="31.8" rx="2.5" fill="url(#blueGrip)"/><path d="M403,534 Q411,536 411,546 Q411,556 403,558 Z" fill="#1a34c8"/><path d="M404,536 Q409,538 409,546" fill="none" stroke="#80a0ff" stroke-width="1.2" opacity="0.8"/><ellipse cx="343.6" cy="545" rx="2.4" ry="8.5" fill="#040c58" opacity="0.85"/><rect x="346.1" y="529" width="2.2" height="31" fill="#80a0ff" opacity="0.4"/><ellipse cx="343.6" cy="528.6" rx="2.2" ry="1.4" fill="#ffffff" opacity="0.85"/><ellipse cx="343.6" cy="560.4" rx="2.2" ry="1.4" fill="#ffffff" opacity="0.85"/><ellipse cx="355" cy="545" rx="2.4" ry="8.5" fill="#040c58" opacity="0.85"/><rect x="357.5" y="529" width="2.2" height="31" fill="#80a0ff" opacity="0.4"/><ellipse cx="355" cy="528.6" rx="2.2" ry="1.4" fill="#ffffff" opacity="0.85"/><ellipse cx="355" cy="560.4" rx="2.2" ry="1.4" fill="#ffffff" opacity="0.85"/><ellipse cx="373" cy="545" rx="2.4" ry="8.5" fill="#040c58" opacity="0.85"/><rect x="375.5" y="529" width="2.2" height="31" fill="#80a0ff" opacity="0.4"/><ellipse cx="373" cy="528.6" rx="2.2" ry="1.4" fill="#ffffff" opacity="0.85"/><ellipse cx="373" cy="560.4" rx="2.2" ry="1.4" fill="#ffffff" opacity="0.85"/><ellipse cx="385.6" cy="545" rx="2.4" ry="8.5" fill="#040c58" opacity="0.85"/><rect x="388.1" y="529" width="2.2" height="31" fill="#80a0ff" opacity="0.4"/><ellipse cx="385.6" cy="528.6" rx="2.2" ry="1.4" fill="#ffffff" opacity="0.85"/><ellipse cx="385.6" cy="560.4" rx="2.2" ry="1.4" fill="#ffffff" opacity="0.85"/><ellipse cx="400" cy="545" rx="2.4" ry="8.5" fill="#040c58" opacity="0.85"/><rect x="402.5" y="529" width="2.2" height="31" fill="#80a0ff" opacity="0.4"/><ellipse cx="400" cy="528.6" rx="2.2" ry="1.4" fill="#ffffff" opacity="0.85"/><ellipse cx="400" cy="560.4" rx="2.2" ry="1.4" fill="#ffffff" opacity="0.85"/><rect x="641.8" y="529.6" width="72" height="32" rx="2.5" fill="url(#blueGrip)"/><path d="M642,535 Q635.2,537 635.2,546.5 Q635.2,556 642,558 Z" fill="#1a34c8"/><ellipse cx="646" cy="545.5" rx="2.4" ry="8.5" fill="#040c58" opacity="0.85"/><rect x="641.3" y="530" width="2.2" height="31" fill="#80a0ff" opacity="0.4"/><ellipse cx="646" cy="529.6" rx="2.2" ry="1.4" fill="#ffffff" opacity="0.85"/><ellipse cx="646" cy="561.6" rx="2.2" ry="1.4" fill="#ffffff" opacity="0.85"/><ellipse cx="659.8" cy="545.5" rx="2.4" ry="8.5" fill="#040c58" opacity="0.85"/><rect x="655.0999999999999" y="530" width="2.2" height="31" fill="#80a0ff" opacity="0.4"/><ellipse cx="659.8" cy="529.6" rx="2.2" ry="1.4" fill="#ffffff" opacity="0.85"/><ellipse cx="659.8" cy="561.6" rx="2.2" ry="1.4" fill="#ffffff" opacity="0.85"/><ellipse cx="672.4" cy="545.5" rx="2.4" ry="8.5" fill="#040c58" opacity="0.85"/><rect x="667.6999999999999" y="530" width="2.2" height="31" fill="#80a0ff" opacity="0.4"/><ellipse cx="672.4" cy="529.6" rx="2.2" ry="1.4" fill="#ffffff" opacity="0.85"/><ellipse cx="672.4" cy="561.6" rx="2.2" ry="1.4" fill="#ffffff" opacity="0.85"/><ellipse cx="689.8" cy="545.5" rx="2.4" ry="8.5" fill="#040c58" opacity="0.85"/><rect x="685.0999999999999" y="530" width="2.2" height="31" fill="#80a0ff" opacity="0.4"/><ellipse cx="689.8" cy="529.6" rx="2.2" ry="1.4" fill="#ffffff" opacity="0.85"/><ellipse cx="689.8" cy="561.6" rx="2.2" ry="1.4" fill="#ffffff" opacity="0.85"/><ellipse cx="700.6" cy="545.5" rx="2.4" ry="8.5" fill="#040c58" opacity="0.85"/><rect x="695.9" y="530" width="2.2" height="31" fill="#80a0ff" opacity="0.4"/><ellipse cx="700.6" cy="529.6" rx="2.2" ry="1.4" fill="#ffffff" opacity="0.85"/><ellipse cx="700.6" cy="561.6" rx="2.2" ry="1.4" fill="#ffffff" opacity="0.85"/></g>
</svg>
<div class="t" style="left:5.97px;top:23.60px;transform:scaleX(1.0278)">aluminum alloy</div>
<div class="t" style="left:5.86px;top:59.60px;transform:scaleX(1.0136)">High temperature resistance</div>
<div class="t" style="left:6.10px;top:95.40px;transform:scaleX(0.9997)">Strengthen the hardness</div>
<div class="t" style="left:6.61px;top:131.60px;transform:scaleX(1.0286)"> after heat treatment</div>
<div class="t" style="left:6.05px;top:167.80px;transform:scaleX(1.0182)">Durable and practical</div>
<div class="t" style="left:382.58px;top:311.00px;transform:scaleX(1.0088)">CNC technology and</div>
<div class="t" style="left:382.63px;top:347.00px;transform:scaleX(0.9837)">CNC process materials</div>
<div class="t" style="left:383.52px;top:383.00px;transform:scaleX(1.0269)">Further improve the</div>
<div class="t" style="left:384.00px;top:418.00px;transform:scaleX(1.0408)">texture</div>
<div class="t" style="left:7.98px;top:556.30px;transform:scaleX(1.0117)">Using oxidation process</div>
<div class="t" style="left:7.67px;top:592.30px;transform:scaleX(1.0444)">Bright and colorful</div>
<div class="t" style="left:8.61px;top:627.50px;transform:scaleX(0.9903)">surface color</div>
<div class="t" style="left:7.80px;top:663.50px;transform:scaleX(1.0006)">Improve wear resistance,</div>
<div class="t" style="left:8.09px;top:699.50px;transform:scaleX(1.0147)">oxidation and hardness</div>
</body></html>
